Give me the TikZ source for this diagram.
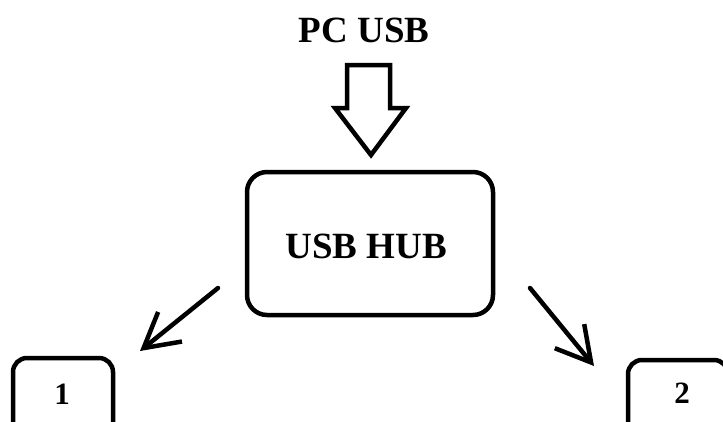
\documentclass[tikz,border=0pt]{standalone}
\usepackage{fontspec}
\setmainfont{Liberation Serif}
\usetikzlibrary{arrows.meta}
\begin{document}
\begin{tikzpicture}[x=1pt,y=-1pt,
  box/.style={draw,line width=4.5pt,rounded corners=20pt,inner sep=0pt},
  lbl/.style={font=\bfseries\fontsize{37}{37}\selectfont,inner sep=0pt},
  num/.style={font=\bfseries\fontsize{31}{31}\selectfont,inner sep=0pt},
  conn/.style={line width=4.5pt,line cap=round,-{Straight Barb[length=34pt,width=38pt,line width=4.5pt]}}]
\useasboundingbox (0,0) rectangle (723,421);
\clip (0,0) rectangle (723,421);
\fill[white] (0,0) rectangle (723,421);
\node[lbl] (pc) at (364,30) {PC USB};
\draw[line width=4.5pt,line join=miter] (347,65) -- (390,65) -- (390,108) -- (406,108) -- (371,155) -- (335,108) -- (347,108) -- cycle;
\node[box,minimum width=246pt,minimum height=143pt] (hub) at (370,243.5) {};
\node[lbl] (hubtxt) at (366,246) {USB HUB};
\node[box,rounded corners=14pt,minimum width=100pt,minimum height=80pt] (b1) at (63,398) {};
\node[num] (t1) at (62,394) {1};
\node[box,rounded corners=14pt,minimum width=100pt,minimum height=80pt] (b2) at (678,400) {};
\node[num] (t2) at (682,393) {2};
\coordinate (a1s) at (218,288);
\coordinate (a1e) at (140,351);
\coordinate (a2s) at (530,288);
\coordinate (a2e) at (594,366);
\draw[conn] (a1s) -- (a1e);
\draw[conn] (a2s) -- (a2e);
\end{tikzpicture}
\end{document}
